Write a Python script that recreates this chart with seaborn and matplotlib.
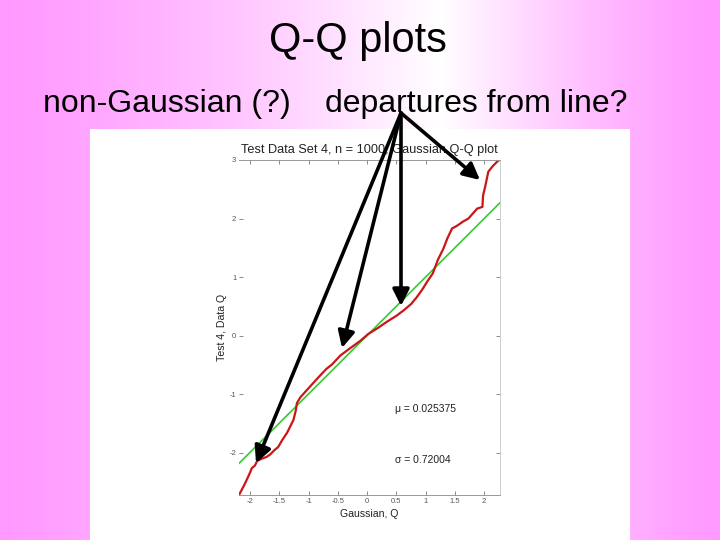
import numpy as np
import pandas as pd
import matplotlib
matplotlib.use("Agg")
import matplotlib.pyplot as plt
from matplotlib.patches import FancyArrowPatch, Rectangle
import seaborn as sns

# ---- data ----
gauss_q = [-2.19, -2.10, -2.02, -1.97, -1.92, -1.88, -1.80, -1.72, -1.66, -1.58,
           -1.52, -1.45, -1.37, -1.30, -1.26, -1.22, -1.20, -1.14, -1.05, -0.95,
           -0.85, -0.70, -0.60, -0.46, -0.30, -0.12, 0.02, 0.18, 0.34, 0.50,
           0.62, 0.75, 0.85, 0.95, 1.03, 1.12, 1.21, 1.30, 1.37, 1.45,
           1.54, 1.64, 1.73, 1.80, 1.88, 1.97, 1.98, 2.02, 2.07, 2.15, 2.24, 2.27]
data_q = [-2.72, -2.55, -2.38, -2.26, -2.22, -2.14, -2.10, -2.07, -2.03, -1.95,
          -1.90, -1.78, -1.66, -1.52, -1.44, -1.28, -1.15, -1.05, -0.95, -0.84,
          -0.73, -0.57, -0.49, -0.34, -0.22, -0.09, 0.03, 0.13, 0.24, 0.34,
          0.43, 0.54, 0.66, 0.80, 0.93, 1.06, 1.30, 1.48, 1.66, 1.83,
          1.88, 1.95, 2.00, 2.08, 2.17, 2.20, 2.39, 2.56, 2.80, 2.90, 2.99, 3.00]
line_x = [-2.20, 2.27]
line_y = [-2.19, 2.27]
x_ticks = [-2, -1.5, -1, -0.5, 0, 0.5, 1, 1.5, 2]
x_tick_labels = ["-2", "-1.5", "-1", "-0.5", "0", "0.5", "1", "1.5", "2"]
y_ticks = [-2, -1, 0, 1, 2, 3]
y_tick_labels = ["-2", "-1", "0", "1", "2", "3"]
mu_text = "\u03bc = 0.025375"
sigma_text = "\u03c3 = 0.72004"

# arrows (figure pixel coords, origin top-left)
arrow_start = (401, 113)
arrow_ends = [(480, 180), (401, 306), (342, 348), (256, 463)]

sns.set_theme(style="ticks")
plt.rcParams['font.family'] = ['Liberation Sans', 'DejaVu Sans']
plt.rcParams['axes.unicode_minus'] = False

W, H = 720, 540
fig = plt.figure(figsize=(7.2, 5.4), dpi=100)

# background gradient
bg = fig.add_axes([0, 0, 1, 1], zorder=0)
xs = np.arange(W)
center = 440
f = np.where(xs < center, xs / center, (W - xs) / (W - center))
f = np.clip(f, 0, 1) ** 1.3
pink = np.array([255, 153, 255]) / 255.0
white = np.array([1.0, 1.0, 1.0])
row = pink[None, :] * (1 - f[:, None]) + white[None, :] * f[:, None]
img = np.repeat(row[None, :, :], H, axis=0)
bg.imshow(img, extent=[0, W, H, 0], aspect='auto')
bg.set_xlim(0, W)
bg.set_ylim(H, 0)
bg.axis('off')
bg.add_patch(Rectangle((90, 129), 540, 411, facecolor='white', edgecolor='none'))

bg.text(358, 52, "Q-Q plots", ha='center', va='baseline', fontsize=30, color='black')
bg.text(43, 112, "non-Gaussian (?)", ha='left', va='baseline', fontsize=23, color='black')
bg.text(325, 112, "departures from line?", ha='left', va='baseline', fontsize=23, color='black')

# Q-Q plot axes
left_px, right_px, top_px, bot_px = 239, 500, 160, 495
ax = fig.add_axes([left_px / W, (H - bot_px) / H, (right_px - left_px) / W, (bot_px - top_px) / H], zorder=2)
ax.set_facecolor('white')
df_red = pd.DataFrame({"Gaussian, Q": gauss_q, "Test 4, Data Q": data_q})
df_green = pd.DataFrame({"x": line_x, "y": line_y})
sns.lineplot(data=df_green, x="x", y="y", ax=ax, color="#33cc33", lw=1.2, sort=False, estimator=None)
sns.lineplot(data=df_red, x="Gaussian, Q", y="Test 4, Data Q", ax=ax, color="#cc1515", lw=1.6,
             sort=False, estimator=None)
ax.set_xlim(-2.19, 2.27)
ax.set_ylim(-2.72, 3.0)
ax.set_xticks(x_ticks)
ax.set_xticklabels(x_tick_labels)
ax.set_yticks(y_ticks)
ax.set_yticklabels(y_tick_labels)
ax.tick_params(direction='in', length=3, width=0.6, colors='#777777', labelsize=5.5,
               labelcolor='#555555', pad=2, top=True, right=True)
for s in ['top', 'bottom', 'right']:
    ax.spines[s].set_color('#999999')
    ax.spines[s].set_linewidth(0.7)
ax.spines['right'].set_color('#cccccc')
ax.spines['left'].set_visible(False)
ax.set_xlabel("Gaussian, Q", fontsize=7.6, labelpad=3, color='#222222')
ax.set_ylabel("Test 4, Data Q", fontsize=7.6, labelpad=2, color='#222222')
ax.set_title("Test Data Set 4, n = 1000, Gaussian Q-Q plot", fontsize=9.2, pad=5, color='#222222')
ax.text(0.48, -1.26, mu_text, fontsize=7.5, va='center', ha='left', color='#222222')
ax.text(0.48, -2.13, sigma_text, fontsize=7.5, va='center', ha='left', color='#222222')

# arrows overlay
ov = fig.add_axes([0, 0, 1, 1], zorder=5)
ov.set_xlim(0, W)
ov.set_ylim(H, 0)
ov.axis('off')
ov.patch.set_alpha(0)
for end in arrow_ends:
    arr = FancyArrowPatch(arrow_start, end, arrowstyle="-|>,head_length=0.5,head_width=0.25",
                          mutation_scale=20, lw=2.6, color='black', shrinkA=0, shrinkB=0)
    ov.add_patch(arr)

fig.savefig("out.png", dpi=100)
